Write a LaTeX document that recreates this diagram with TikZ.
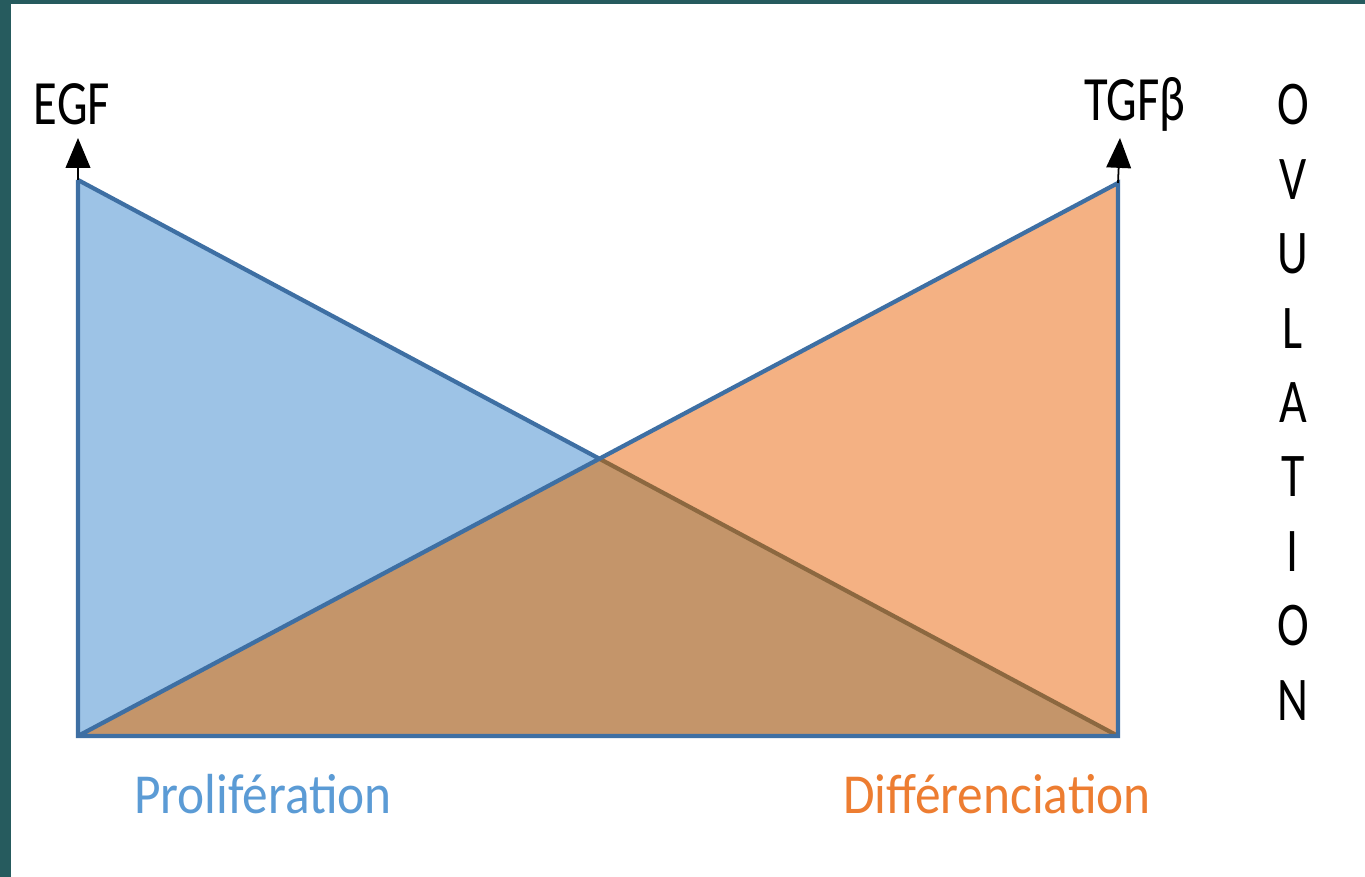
\documentclass[tikz,border=0pt]{standalone}
\usepackage{fontspec}
\setsansfont{Carlito}
\usetikzlibrary{arrows.meta,positioning}
\definecolor{slidebg}{HTML}{265B5E}
\definecolor{profill}{HTML}{9DC3E6}
\definecolor{difffill}{HTML}{F4B183}
\definecolor{mixfill}{HTML}{C4956A}
\definecolor{edgeblue}{HTML}{3E6FA3}
\definecolor{mixedge}{HTML}{8C6840}
\definecolor{protext}{HTML}{5B9BD5}
\definecolor{difftext}{HTML}{ED7D31}
\tikzset
{
    factor/.style = {font=\sffamily\fontsize{13.8}{16}\selectfont, text=black, inner sep=0pt, yscale=1.3},
    letter/.style = {font=\sffamily\fontsize{13.6}{16}\selectfont, text=black, inner sep=0pt, yscale=1.3},
    phase/.style  = {font=\sffamily\fontsize{14.6}{17}\selectfont, inner sep=0pt, yscale=1.1},
    wedge/.style  = {draw=edgeblue, line width=1.2pt, line join=miter},
    signal/.style = {-{Triangle[width=7pt,length=8.5pt]}, line width=0.5pt}
}

\begin{document}
\begin{tikzpicture}[x=0.01cm, y=-0.01cm]
   \newcommand\LETTERX{1293}
   \newcommand\LETTERDY{74.4}

   % slide background
   \fill[slidebg] (0,0) rectangle (1365,877);
   \fill[white]   (11,4) rectangle (1365,877);

   \coordinate (pa) at (78,180);
   \coordinate (pb) at (78,736);
   \coordinate (pc) at (1118,736);
   \coordinate (pd) at (1118,183);
   \coordinate (px) at (intersection of pa--pc and pb--pd);
   \coordinate (ta) at (78,138);
   \coordinate (td) at (1120,138);

   % the two wedges
   \fill[profill]  (pa) -- (pb) -- (pc) -- cycle;
   \fill[difffill] (pd) -- (pc) -- (pb) -- cycle;
   \fill[mixfill]  (pb) -- (px) -- (pc) -- cycle;
   \draw[mixedge, line width=1.2pt] (px) -- (pc);
   \draw[wedge] (pa) -- (px);
   \draw[wedge] (pa) -- (pb) -- (pc) -- (pd) -- (pb);

   \draw[signal] (pa) -- (ta);
   \draw[signal] (pd) -- (td);

   \node (egf)  [factor] at (72,104)   {EGF};
   \node (tgf)  [factor] at (1135,104) {TGFβ};

   \foreach \ch [count=\i from 0] in {O,V,U,L,A,T,I,O,N}
      \node (ov\i) [letter] at (\LETTERX, 105+\LETTERDY*\i) {\ch};

   \node (prol) [phase, text=protext]  at (263,794)  {Prolifération};
   \node (diff) [phase, text=difftext] at (997,794) {Différenciation};
\end{tikzpicture}
\end{document}
